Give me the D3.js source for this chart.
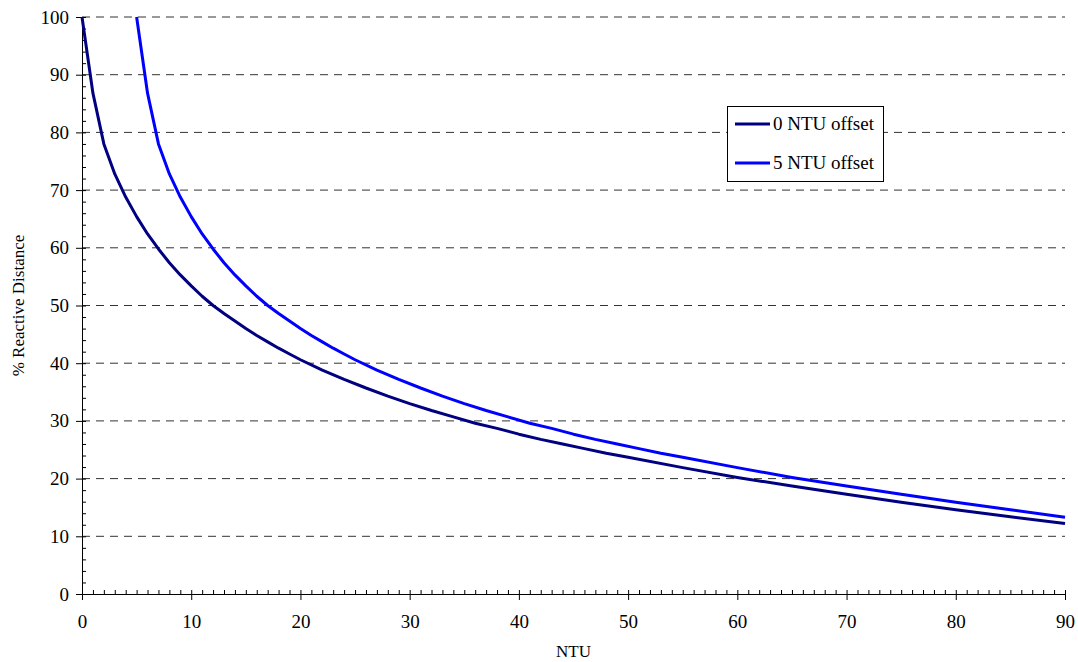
<!DOCTYPE html>
<html>
<head>
<meta charset="utf-8">
<script src="https://cdn.jsdelivr.net/npm/d3@7"></script>
<style>
  html, body { margin: 0; padding: 0; background: #fff; }
  svg { display: block; }
  svg text { font-family: "Liberation Serif", "Times New Roman", Times, serif !important; fill: #000; }
</style>
</head>
<body>
<svg id="chart" width="1078" height="662" font-family="Liberation Serif"></svg>
<script>
// ---- Data ----
const seriesNames = ["0 NTU offset", "5 NTU offset"];
const seriesColors = ["#000080", "#0000FF"];

const ntu0 = [0, 1, 2, 3, 4, 5, 6, 7, 8, 9, 10, 11, 12, 13, 14, 15, 16, 17, 18, 19, 20,
  22, 24, 26, 28, 30, 32, 34, 36, 38, 40, 42, 44, 46, 48, 50, 55, 60, 65, 70, 75, 80, 85, 90];
const rd0 = [100, 86.8, 78, 72.8, 68.8, 65.4, 62.4, 59.8, 57.4, 55.3, 53.4, 51.6, 50, 48.6, 47.3, 46, 44.8, 43.7, 42.6, 41.6, 40.6,
  38.8, 37.2, 35.7, 34.3, 33, 31.8, 30.7, 29.6, 28.7, 27.7, 26.8, 26, 25.2, 24.4, 23.7, 21.9, 20.2, 18.7, 17.3, 15.9, 14.6, 13.4, 12.2];

const ntu5 = [5, 6, 7, 8, 9, 10, 11, 12, 13, 14, 15, 16, 17, 18, 19, 20, 21, 22, 23, 24, 25,
  27, 29, 31, 33, 35, 37, 39, 41, 43, 45, 47, 49, 51, 53, 55, 60, 65, 70, 75, 80, 85, 90];
const rd5 = [100, 86.8, 78, 72.8, 68.8, 65.4, 62.4, 59.8, 57.4, 55.3, 53.4, 51.6, 50, 48.6, 47.3, 46, 44.8, 43.7, 42.6, 41.6, 40.6,
  38.8, 37.2, 35.7, 34.3, 33, 31.8, 30.7, 29.6, 28.7, 27.7, 26.8, 26, 25.2, 24.4, 23.7, 21.9, 20.2, 18.7, 17.3, 15.9, 14.6, 13.3];

const xTicks = [0, 10, 20, 30, 40, 50, 60, 70, 80, 90];
const yTicks = [0, 10, 20, 30, 40, 50, 60, 70, 80, 90, 100];
const xTitle = "NTU";
const yTitle = "% Reactive Distance";

// ---- Layout ----
const FONT = "Liberation Serif";
const svg = d3.select("#chart");
const mLeft = 82, mRight = 1065, mTop = 17, mBottom = 594;

const x = d3.scaleLinear().domain([0, 90]).range([mLeft, mRight]);
const y = d3.scaleLinear().domain([0, 100]).range([mBottom, mTop]);

// Gridlines
svg.append("g")
  .selectAll("line")
  .data(yTicks.filter(d => d > 0))
  .join("line")
  .attr("x1", mLeft).attr("x2", mRight)
  .attr("y1", d => y(d)).attr("y2", d => y(d))
  .attr("stroke", "#333")
  .attr("stroke-width", 1)
  .attr("stroke-dasharray", "8,6");

// Minor/inner ticks
const xMinor = d3.range(0, 91, 1);
const yMinor = d3.range(0, 101, 2);

svg.append("g")
  .attr("transform", `translate(0,${mBottom})`)
  .call(d3.axisBottom(x).tickValues(xMinor).tickSize(-4).tickFormat(""))
  .call(g => g.select(".domain").remove())
  .call(g => g.selectAll("line").attr("stroke", "#000"));

svg.append("g")
  .attr("transform", `translate(${mLeft},0)`)
  .call(d3.axisLeft(y).tickValues(yMinor).tickSize(-4).tickFormat(""))
  .call(g => g.select(".domain").remove())
  .call(g => g.selectAll("line").attr("stroke", "#000"));

// Major axes with labels
const xAxis = svg.append("g")
  .attr("transform", `translate(0,${mBottom})`)
  .call(d3.axisBottom(x).tickValues(xTicks).tickSize(6).tickSizeOuter(0).tickPadding(15))
  .attr("font-family", FONT).attr("font-size", 19);

const yAxis = svg.append("g")
  .attr("transform", `translate(${mLeft},0)`)
  .call(d3.axisLeft(y).tickValues(yTicks).tickSize(6).tickSizeOuter(0).tickPadding(7))
  .attr("font-family", FONT).attr("font-size", 19);

svg.selectAll(".domain").attr("stroke", "#000");
svg.selectAll(".tick line").attr("stroke", "#000");

// Series lines
const line = d3.line().x(d => x(d[0])).y(d => y(d[1]));
const series = [
  d3.zip(ntu0, rd0),
  d3.zip(ntu5, rd5)
];
svg.append("g")
  .selectAll("path")
  .data(series)
  .join("path")
  .attr("d", d => line(d))
  .attr("fill", "none")
  .attr("stroke", (d, i) => seriesColors[i])
  .attr("stroke-width", 3)
  .attr("stroke-linejoin", "round");

// Axis titles
svg.append("text")
  .attr("x", (mLeft + mRight) / 2)
  .attr("y", 657)
  .attr("text-anchor", "middle")
  .attr("font-family", FONT)
  .attr("font-size", 17)
  .text(xTitle);

svg.append("text")
  .attr("transform", `translate(24,${(mTop + mBottom) / 2}) rotate(-90)`)
  .attr("text-anchor", "middle")
  .attr("font-family", FONT)
  .attr("font-size", 17)
  .text(yTitle);

// Legend
const lg = svg.append("g");
lg.append("rect")
  .attr("x", 727.5).attr("y", 106.5)
  .attr("width", 156).attr("height", 75)
  .attr("fill", "#fff")
  .attr("stroke", "#000")
  .attr("stroke-width", 1);
const entryY = [124, 163];
seriesNames.forEach((name, i) => {
  lg.append("line")
    .attr("x1", 735).attr("x2", 770)
    .attr("y1", entryY[i]).attr("y2", entryY[i])
    .attr("stroke", seriesColors[i])
    .attr("stroke-width", 3);
  lg.append("text")
    .attr("x", 773)
    .attr("y", entryY[i] + 6)
    .attr("font-family", FONT)
    .attr("font-size", 19)
    .text(name);
});
</script>
</body>
</html>
